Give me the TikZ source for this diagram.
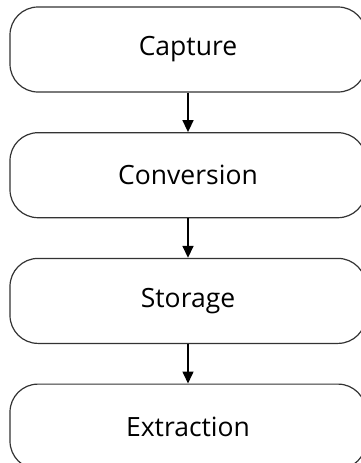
\documentclass[tikz,border=0pt]{standalone}
\usepackage{fontspec}
\setmainfont{Open Sans}
\usepackage{tikz}
\tikzstyle{stage}=[rectangle,rounded corners=28pt,draw=black!80,line width=1.2pt,
minimum width=356pt,minimum height=85pt,inner sep=0pt,font=\fontsize{26.5}{32}\selectfont]
\tikzstyle{flow}=[line width=1.6pt,-{Triangle[width=11pt,length=12pt]}]
\usetikzlibrary{positioning,arrows.meta}

\begin{document}
\begin{tikzpicture}[node distance=39.5pt]
            \useasboundingbox (0pt,0pt) rectangle (361pt,-463pt);

            % STAGES

            \node[stage] (capture) at (188pt,-49.5pt) {Capture};
            \node[stage, below=of capture] (conversion) {Conversion};
            \node[stage, below=of conversion] (storage) {Storage};
            \node[stage, below=of storage] (extraction) {Extraction};

            % ARROWS

            \path[flow] (capture) edge node {} (conversion);
            \path[flow] (conversion) edge node {} (storage);
            \path[flow] (storage) edge node {} (extraction);

\end{tikzpicture}
\end{document}
